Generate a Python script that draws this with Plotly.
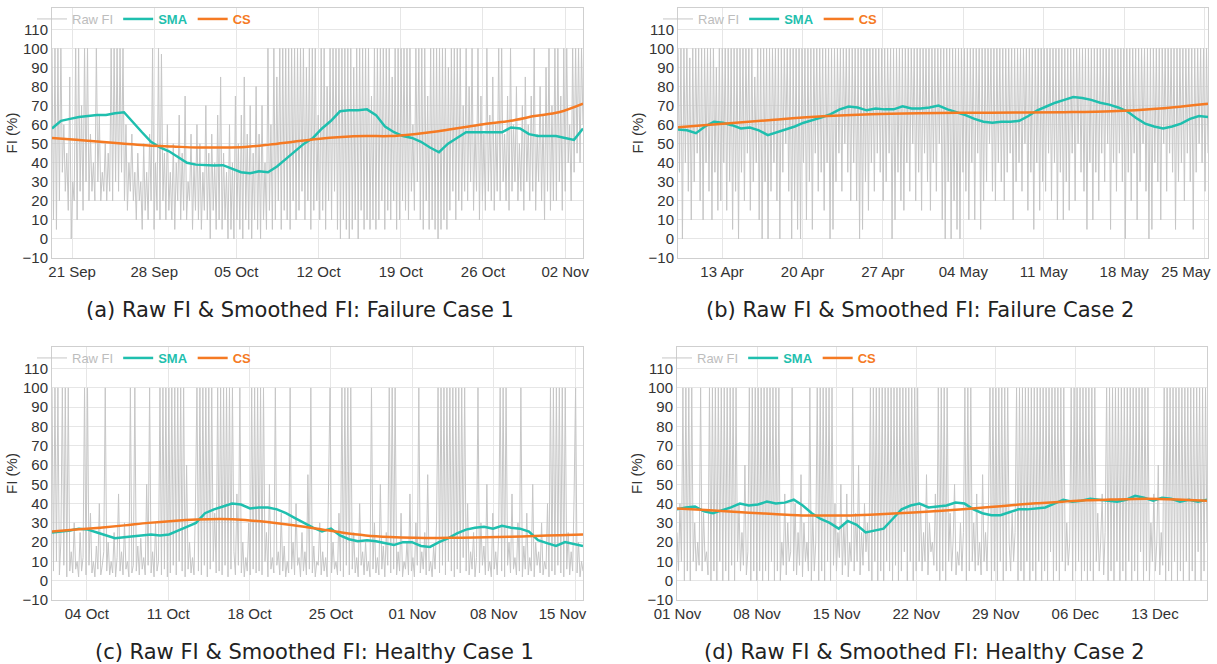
import plotly.graph_objects as go
import pandas as pd

# ---------------- data ----------------
# Panel (a) Failure Case 1
A_START, A_END = "2020-09-19 07:00", "2020-11-03 12:30"
A_RAW = [100, 10, 100, 5, 100, 20, 100, 35, 60, 25, 45, 15, 85, 0, 30, 20, 100, 10, 100, 25,
         70, 15, 100, 30, 100, 20, 55, 25, 40, 20, 100, 30, 65, 20, 35, 25, 50, 20, 45, 25,
         100, 20, 100, 30, 100, 25, 100, 35, 100, 20, 60, 15, 40, 25, 55, 20, 35, 10, 45, 20,
         30, 5, 50, 15, 35, 10, 55, 20, 100, 5, 40, 15, 100, 10, 97, 20, 45, 10, 60, 15,
         35, 10, 50, 5, 40, 20, 65, 10, 45, 15, 75, 10, 30, 20, 55, 5, 40, 15, 60, 10,
         50, 5, 35, 15, 70, 10, 45, 0, 55, 15, 40, 5, 65, 10, 85, 5, 45, 10, 35, 0,
         60, 5, 40, 0, 75, 10, 50, 5, 65, 0, 85, 10, 55, 5, 70, 0, 45, 10, 80, 5,
         55, 0, 70, 10, 40, 5, 100, 15, 60, 5, 100, 10, 85, 20, 100, 5, 100, 15, 100, 10,
         100, 5, 100, 20, 100, 10, 100, 15, 100, 25, 100, 10, 90, 20, 100, 5, 100, 15, 100, 20,
         65, 10, 100, 15, 100, 5, 80, 20, 100, 10, 100, 25, 100, 5, 100, 0, 100, 10, 100, 5,
         100, 0, 100, 5, 90, 10, 100, 0, 100, 15, 100, 5, 100, 10, 100, 5, 75, 10, 100, 5,
         100, 10, 100, 20, 100, 5, 100, 15, 100, 10, 85, 20, 100, 5, 100, 10, 100, 20, 100, 15,
         100, 10, 100, 25, 60, 15, 100, 30, 100, 10, 100, 5, 100, 20, 75, 5, 100, 10, 100, 5,
         100, 0, 100, 5, 100, 10, 100, 5, 90, 15, 100, 25, 100, 10, 100, 20, 100, 15, 70, 25,
         100, 20, 80, 30, 100, 15, 60, 25, 100, 10, 75, 20, 55, 15, 100, 25, 65, 20, 85, 15,
         60, 25, 100, 20, 100, 30, 55, 20, 75, 15, 100, 25, 60, 30, 80, 20, 50, 25, 70, 15,
         85, 30, 60, 20, 75, 25, 100, 15, 55, 30, 80, 20, 65, 10, 90, 25, 100, 15, 70, 20,
         100, 20, 100, 30, 75, 15, 100, 25, 100, 40, 60, 20, 100, 35, 100, 45, 100, 40, 100, 60]
A_SMA = [58, 62, 63, 64, 64.5, 65, 65, 66, 66.5, 61,
         56, 51, 48, 46, 43, 40, 39, 38.7, 38.5, 38.7,
         37, 35, 34.5, 35.5, 35, 38, 42, 46, 50, 53,
         58, 62, 67, 67.5, 67.5, 68, 65, 59, 56, 54,
         53, 51, 48, 45.5, 50, 53, 56, 56, 56, 56,
         56, 58.5, 58, 55, 54, 54, 54, 53, 52, 58]
A_CS = [53, 52, 51, 50, 49, 48.5, 48, 48, 48.3, 49.5, 51, 52.5,
        53.5, 54, 54, 55, 56.5, 58.5, 60.5, 62, 64.5, 66.5, 71]
A_TICK_DATES = ["2020-09-21", "2020-09-28", "2020-10-05", "2020-10-12",
                "2020-10-19", "2020-10-26", "2020-11-02"]
A_TICK_TEXT = ["21 Sep", "28 Sep", "05 Oct", "12 Oct", "19 Oct", "26 Oct", "02 Nov"]

# Panel (b) Failure Case 2
B_START, B_END = "2020-04-09 04:00", "2020-05-25 07:00"
B_RAW = [100, 35, 100, 0, 100, 40, 100, 25, 95, 10, 100, 30, 100, 45, 100, 20, 100, 10, 100, 40,
         100, 25, 100, 10, 100, 35, 90, 15, 100, 20, 100, 40, 100, 15, 100, 30, 100, 5, 100, 25,
         100, 0, 100, 35, 100, 20, 100, 45, 100, 15, 100, 30, 85, 40, 100, 10, 100, 0, 100, 30,
         100, 0, 100, 25, 100, 40, 100, 20, 100, 0, 100, 35, 100, 50, 100, 25, 100, 0, 100, 20,
         100, 5, 100, 0, 100, 40, 100, 10, 100, 30, 100, 5, 100, 45, 100, 25, 100, 35, 100, 15,
         100, 40, 100, 0, 100, 5, 100, 30, 100, 45, 100, 25, 100, 50, 100, 35, 100, 20, 100, 40,
         100, 20, 100, 0, 100, 5, 100, 30, 100, 15, 100, 40, 100, 25, 100, 45, 100, 35, 100, 20,
         100, 30, 100, 45, 100, 0, 100, 10, 100, 35, 100, 20, 100, 15, 100, 40, 100, 25, 100, 50,
         100, 20, 100, 35, 100, 15, 100, 45, 100, 30, 100, 15, 100, 40, 100, 25, 100, 50, 100, 10,
         100, 0, 100, 30, 100, 0, 100, 20, 100, 5, 100, 0, 100, 35, 100, 25, 100, 10, 100, 40,
         100, 10, 100, 45, 100, 5, 100, 20, 100, 30, 100, 50, 100, 25, 100, 20, 100, 40, 100, 30,
         100, 20, 100, 35, 100, 45, 100, 10, 100, 30, 100, 40, 100, 25, 100, 50, 100, 15, 100, 35,
         100, 5, 100, 40, 100, 15, 100, 30, 100, 25, 100, 45, 100, 20, 100, 40, 100, 10, 100, 35,
         100, 10, 100, 30, 100, 15, 100, 45, 100, 20, 100, 50, 100, 35, 100, 25, 100, 5, 100, 40,
         100, 10, 100, 35, 100, 20, 100, 45, 100, 30, 100, 50, 100, 5, 100, 40, 100, 25, 100, 45,
         100, 30, 100, 0, 100, 35, 100, 20, 100, 45, 100, 10, 100, 30, 100, 50, 100, 25, 100, 0,
         100, 5, 100, 40, 100, 30, 100, 10, 100, 50, 100, 25, 100, 45, 100, 35, 100, 5, 100, 30,
         100, 40, 100, 20, 100, 45, 100, 30, 100, 5, 100, 35, 100, 50, 100, 40, 100, 25, 100, 45]
B_SMA = [57.5, 57, 55.5, 59, 61.5, 61, 59.7, 58, 58.5, 57,
         54.5, 56, 57.5, 59, 61, 62.3, 63.8, 65.5, 68, 69.5,
         69, 67.5, 68.5, 68, 68, 69.6, 68.5, 68.5, 69, 70,
         68, 66.5, 65, 63, 61.5, 61, 61.5, 61.5, 62, 64.5,
         67.5, 69.5, 71.5, 73, 74.5, 74, 73, 71.5, 70.5, 69,
         67, 63.5, 60.5, 59, 58, 59, 60.5, 63, 64.5, 64]
B_CS = [58.6, 60.6, 62.6, 64.4, 65.5, 66, 66.2, 66.3, 66.5, 67, 68.5, 71]
B_TICK_DATES = ["2020-04-13", "2020-04-20", "2020-04-27", "2020-05-04",
                "2020-05-11", "2020-05-18", "2020-05-25"]
B_TICK_TEXT = ["13 Apr", "20 Apr", "27 Apr", "04 May", "11 May", "18 May",
               "25 May" + "\u00a0" * 9]

# Panel (c) Healthy Case 1
C_START, C_END = "2020-10-01 00:00", "2020-11-15 16:30"
C_RAW = [100, 5, 100, 10, 100, 3, 20, 100, 8, 100, 2, 100, 5, 15, 4, 30, 6, 10, 2, 25,
         5, 12, 100, 3, 100, 8, 35, 4, 10, 2, 18, 6, 40, 3, 8, 15, 100, 5, 20, 3,
         10, 4, 25, 2, 12, 45, 5, 15, 3, 30, 6, 10, 2, 100, 4, 8, 100, 5, 18, 3,
         22, 6, 12, 3, 50, 8, 100, 4, 15, 2, 30, 5, 10, 100, 3, 100, 6, 100, 2, 100,
         4, 100, 8, 100, 3, 100, 10, 100, 5, 100, 2, 60, 6, 20, 4, 12, 3, 40, 100, 5,
         100, 3, 100, 8, 100, 2, 100, 6, 100, 10, 35, 4, 100, 5, 100, 3, 100, 8, 100, 2,
         100, 6, 100, 15, 3, 45, 8, 100, 4, 20, 2, 12, 5, 30, 3, 100, 6, 100, 4, 100,
         5, 100, 3, 100, 10, 25, 2, 50, 6, 12, 4, 100, 8, 15, 3, 35, 5, 18, 2, 10,
         4, 100, 6, 20, 3, 40, 8, 12, 2, 25, 5, 15, 3, 55, 6, 100, 4, 18, 2, 10,
         8, 30, 3, 15, 5, 12, 2, 45, 100, 4, 20, 6, 10, 3, 35, 5, 100, 2, 100, 8,
         100, 3, 100, 6, 25, 4, 12, 2, 40, 8, 15, 3, 20, 5, 10, 2, 100, 6, 30, 4,
         12, 3, 50, 6, 18, 2, 25, 8, 100, 4, 100, 6, 100, 3, 15, 5, 35, 2, 10, 6,
         20, 3, 45, 5, 12, 2, 30, 8, 100, 4, 15, 6, 25, 3, 55, 5, 10, 2, 18, 6,
         30, 100, 4, 100, 8, 100, 3, 100, 10, 100, 5, 100, 2, 100, 6, 100, 4, 100, 12, 100,
         5, 40, 3, 15, 6, 25, 2, 12, 100, 4, 30, 8, 18, 3, 50, 5, 10, 2, 35, 6,
         15, 3, 25, 100, 5, 100, 2, 100, 8, 20, 4, 45, 6, 12, 3, 30, 5, 100, 2, 18,
         6, 35, 3, 12, 5, 50, 2, 20, 8, 15, 4, 30, 3, 10, 6, 40, 2, 100, 5, 100,
         3, 100, 8, 100, 4, 100, 2, 100, 6, 25, 3, 15, 5, 45, 100, 4, 20, 2, 10, 5]
C_SMA = [25, 25.5, 26, 27, 26.5, 25, 23.5, 22, 22.5, 23,
         23.5, 24, 23.5, 24, 26, 28, 30, 35, 37, 38.5,
         40, 39.5, 37.5, 38, 38, 37, 35, 32.5, 30, 27.5,
         25.5, 27, 23.5, 21.5, 20.5, 21, 20.5, 19.5, 18.5, 20,
         20, 18, 17.5, 20, 22, 24.5, 26.5, 27.5, 28, 27,
         28.5, 27.5, 27, 25.5, 21, 19.5, 18, 20, 19, 18]
C_CS = [25.5, 26.5, 27.5, 28.7, 30, 31, 31.7, 32, 31.5, 30.3, 28.8, 27,
        25, 23.5, 22.7, 22.3, 22.2, 22.3, 22.5, 22.8, 23.2, 23.6, 24]
C_TICK_DATES = ["2020-10-04", "2020-10-11", "2020-10-18", "2020-10-25",
                "2020-11-01", "2020-11-08", "2020-11-15"]
C_TICK_TEXT = ["04 Oct", "11 Oct", "18 Oct", "25 Oct", "01 Nov", "08 Nov",
               "15 Nov" + "\u00a0" * 6]

# Panel (d) Healthy Case 2
D_START, D_END = "2020-10-31 23:00", "2020-12-17 14:00"
D_RAW = [25, 5, 40, 10, 100, 0, 100, 5, 100, 0, 100, 10, 30, 5, 20, 8, 100, 5, 35, 10,
         15, 3, 100, 0, 100, 5, 100, 0, 100, 10, 100, 0, 100, 5, 100, 0, 100, 8, 100, 0,
         100, 10, 40, 5, 25, 8, 60, 3, 15, 100, 0, 100, 5, 100, 0, 100, 5, 100, 0, 100,
         5, 100, 0, 100, 10, 100, 0, 100, 5, 100, 0, 20, 8, 45, 3, 30, 10, 15, 100, 5,
         40, 3, 25, 8, 55, 2, 30, 10, 20, 5, 100, 0, 35, 5, 20, 100, 0, 100, 5, 100,
         0, 100, 10, 100, 0, 100, 8, 40, 5, 25, 12, 50, 3, 30, 8, 45, 2, 20, 10, 100,
         5, 35, 10, 60, 3, 25, 8, 40, 15, 30, 5, 100, 0, 100, 10, 100, 0, 100, 5, 100,
         0, 100, 10, 100, 5, 100, 0, 100, 8, 100, 0, 100, 5, 100, 15, 100, 0, 100, 10, 100,
         0, 100, 5, 100, 10, 40, 5, 25, 10, 55, 3, 30, 15, 20, 8, 45, 5, 100, 0, 100,
         5, 100, 0, 100, 10, 35, 5, 20, 50, 3, 15, 8, 30, 5, 25, 100, 0, 100, 5, 100,
         10, 30, 5, 45, 8, 20, 3, 55, 10, 25, 5, 40, 100, 0, 100, 5, 100, 0, 100, 10,
         100, 0, 100, 5, 100, 20, 5, 35, 10, 25, 100, 0, 100, 5, 100, 0, 100, 10, 100, 0,
         100, 5, 100, 0, 100, 10, 100, 0, 100, 5, 100, 0, 100, 15, 100, 0, 100, 5, 100, 0,
         100, 10, 100, 5, 30, 8, 20, 100, 0, 100, 5, 100, 10, 100, 0, 100, 5, 100, 0, 100,
         5, 100, 0, 100, 10, 35, 5, 20, 45, 3, 25, 100, 0, 100, 5, 100, 0, 100, 10, 100,
         0, 100, 5, 100, 0, 100, 10, 100, 0, 100, 5, 100, 0, 100, 15, 100, 0, 100, 5, 100,
         0, 30, 10, 45, 5, 20, 60, 3, 25, 8, 100, 0, 100, 5, 100, 0, 100, 10, 100, 0,
         100, 5, 100, 0, 100, 10, 100, 0, 100, 5, 100, 0, 100, 15, 100, 0, 100, 5, 100, 20]
D_SMA = [37, 38, 38.5, 36, 35, 36.5, 38, 40, 39, 39.5,
         41, 40, 40.5, 42, 39, 35, 32, 30, 27, 31,
         29, 25, 26, 27, 32, 37, 39, 40, 38, 38.5,
         39, 40.5, 40, 37, 35, 34, 34, 35.5, 37, 37,
         37.5, 38, 40, 42, 41, 41.5, 42.5, 42, 41.5, 41,
         42, 44, 43, 41.5, 43, 42.5, 41, 42, 41, 42]
D_CS = [37.5, 36.8, 36, 35.2, 34.6, 34, 33.8, 33.8, 34.2, 34.8, 35.5, 36.3,
        37.2, 38.2, 39.3, 40.2, 41, 41.7, 42.1, 42.4, 42.4, 42, 41.5]
D_TICK_DATES = ["2020-11-01", "2020-11-08", "2020-11-15", "2020-11-22",
                "2020-11-29", "2020-12-06", "2020-12-13"]
D_TICK_TEXT = ["01 Nov", "08 Nov", "15 Nov", "22 Nov", "29 Nov", "06 Dec", "13 Dec"]

CAPTIONS = ["(a) Raw FI & Smoothed FI: Failure Case 1",
            "(b) Raw FI & Smoothed FI: Failure Case 2",
            "(c) Raw FI & Smoothed FI: Healthy Case 1",
            "(d) Raw FI & Smoothed FI: Healthy Case 2"]
Y_TICKS = [-10, 0, 10, 20, 30, 40, 50, 60, 70, 80, 90, 100, 110]

# ---------------- styling ----------------
W, H = 1217, 664
RAW_COL = "#c6c6c6"
SMA_COL = "#1fbfae"
CS_COL = "#f57a23"
AX_FONT = "Liberation Sans, Arial, sans-serif"
TICK_FONT = dict(family=AX_FONT, size=15, color="#333333")
GRID = "#e6e6e6"
FRAME = "#cfcfcf"


def px_x(a, b):
    return [a / W, b / W]


def px_y(top, bottom):
    return [1 - bottom / H, 1 - top / H]


panels = [
    dict(start=A_START, end=A_END, raw=A_RAW, sma=A_SMA, cs=A_CS,
         td=A_TICK_DATES, tt=A_TICK_TEXT, xd=px_x(52, 583), yd=px_y(8, 258),
         leg=(32, 19), cap=(300, 310)),
    dict(start=B_START, end=B_END, raw=B_RAW, sma=B_SMA, cs=B_CS,
         td=B_TICK_DATES, tt=B_TICK_TEXT, xd=px_x(678, 1208), yd=px_y(8, 258),
         leg=(658, 19), cap=(920, 310)),
    dict(start=C_START, end=C_END, raw=C_RAW, sma=C_SMA, cs=C_CS,
         td=C_TICK_DATES, tt=C_TICK_TEXT, xd=px_x(52, 583), yd=px_y(347, 600),
         leg=(32, 358), cap=(314, 652)),
    dict(start=D_START, end=D_END, raw=D_RAW, sma=D_SMA, cs=D_CS,
         td=D_TICK_DATES, tt=D_TICK_TEXT, xd=px_x(677, 1207), yd=px_y(347, 600),
         leg=(657, 358), cap=(924, 652)),
]

fig = go.Figure()
layout = dict(width=W, height=H, margin=dict(l=0, r=0, t=0, b=0, autoexpand=False),
              paper_bgcolor="white", plot_bgcolor="white", annotations=[])

for i, p in enumerate(panels):
    n = "" if i == 0 else str(i + 1)
    xa, ya = "x" + n, "y" + n
    leg = "legend" + n
    t_raw = pd.date_range(p["start"], p["end"], periods=len(p["raw"]))
    t_sma = pd.date_range(p["start"], p["end"], periods=len(p["sma"]))
    t_cs = pd.date_range(p["start"], p["end"], periods=len(p["cs"]))
    fig.add_trace(go.Scatter(x=t_raw, y=p["raw"], mode="lines", xaxis=xa, yaxis=ya,
                             line=dict(color=RAW_COL, width=1), legend=leg,
                             name='<span style="color:#bdbdbd">Raw FI</span>'))
    fig.add_trace(go.Scatter(x=t_sma, y=p["sma"], mode="lines", xaxis=xa, yaxis=ya,
                             line=dict(color=SMA_COL, width=2.5), legend=leg,
                             name='<b><span style="color:%s">SMA</span></b>' % SMA_COL))
    fig.add_trace(go.Scatter(x=t_cs, y=p["cs"], mode="lines", xaxis=xa, yaxis=ya,
                             line=dict(color=CS_COL, width=2.5, shape="spline"), legend=leg,
                             name='<b><span style="color:%s">CS</span></b>' % CS_COL))

    layout["xaxis" + n] = dict(
        domain=p["xd"], anchor=ya, type="date", automargin=False,
        range=[p["start"], p["end"]],
        tickmode="array", tickvals=p["td"], ticktext=p["tt"],
        ticklabeloverflow="allow",
        tickfont=TICK_FONT, showgrid=True, gridcolor=GRID, gridwidth=1,
        showline=True, linecolor=FRAME, linewidth=1, mirror=True,
        ticks="", zeroline=False)
    layout["yaxis" + n] = dict(
        domain=p["yd"], anchor=xa, range=[-10, 121.2], automargin=True,
        tickmode="array", tickvals=Y_TICKS,
        tickfont=TICK_FONT, showgrid=True, gridcolor=GRID, gridwidth=1,
        showline=True, linecolor=FRAME, linewidth=1, mirror=True,
        ticks="", zeroline=False,
        title=dict(text="FI (%)", font=dict(family=AX_FONT, size=15, color="#333333"),
                   standoff=1))
    layout[leg] = dict(
        x=p["leg"][0] / W, y=1 - p["leg"][1] / H, xanchor="left", yanchor="middle",
        orientation="h", bgcolor="rgba(255,255,255,0)", borderwidth=0,
        font=dict(family=AX_FONT, size=13, color="#bdbdbd"),
        itemwidth=30, tracegroupgap=0)
    layout["annotations"].append(dict(
        text=CAPTIONS[i], x=p["cap"][0] / W, y=1 - p["cap"][1] / H,
        xref="paper", yref="paper", xanchor="center", yanchor="middle",
        showarrow=False, font=dict(family="DejaVu Sans, sans-serif", size=21, color="#222222")))

fig.update_layout(**layout)
fig.write_html("out.html", config={"displayModeBar": False},
               post_script="document.body.style.margin='0';")
